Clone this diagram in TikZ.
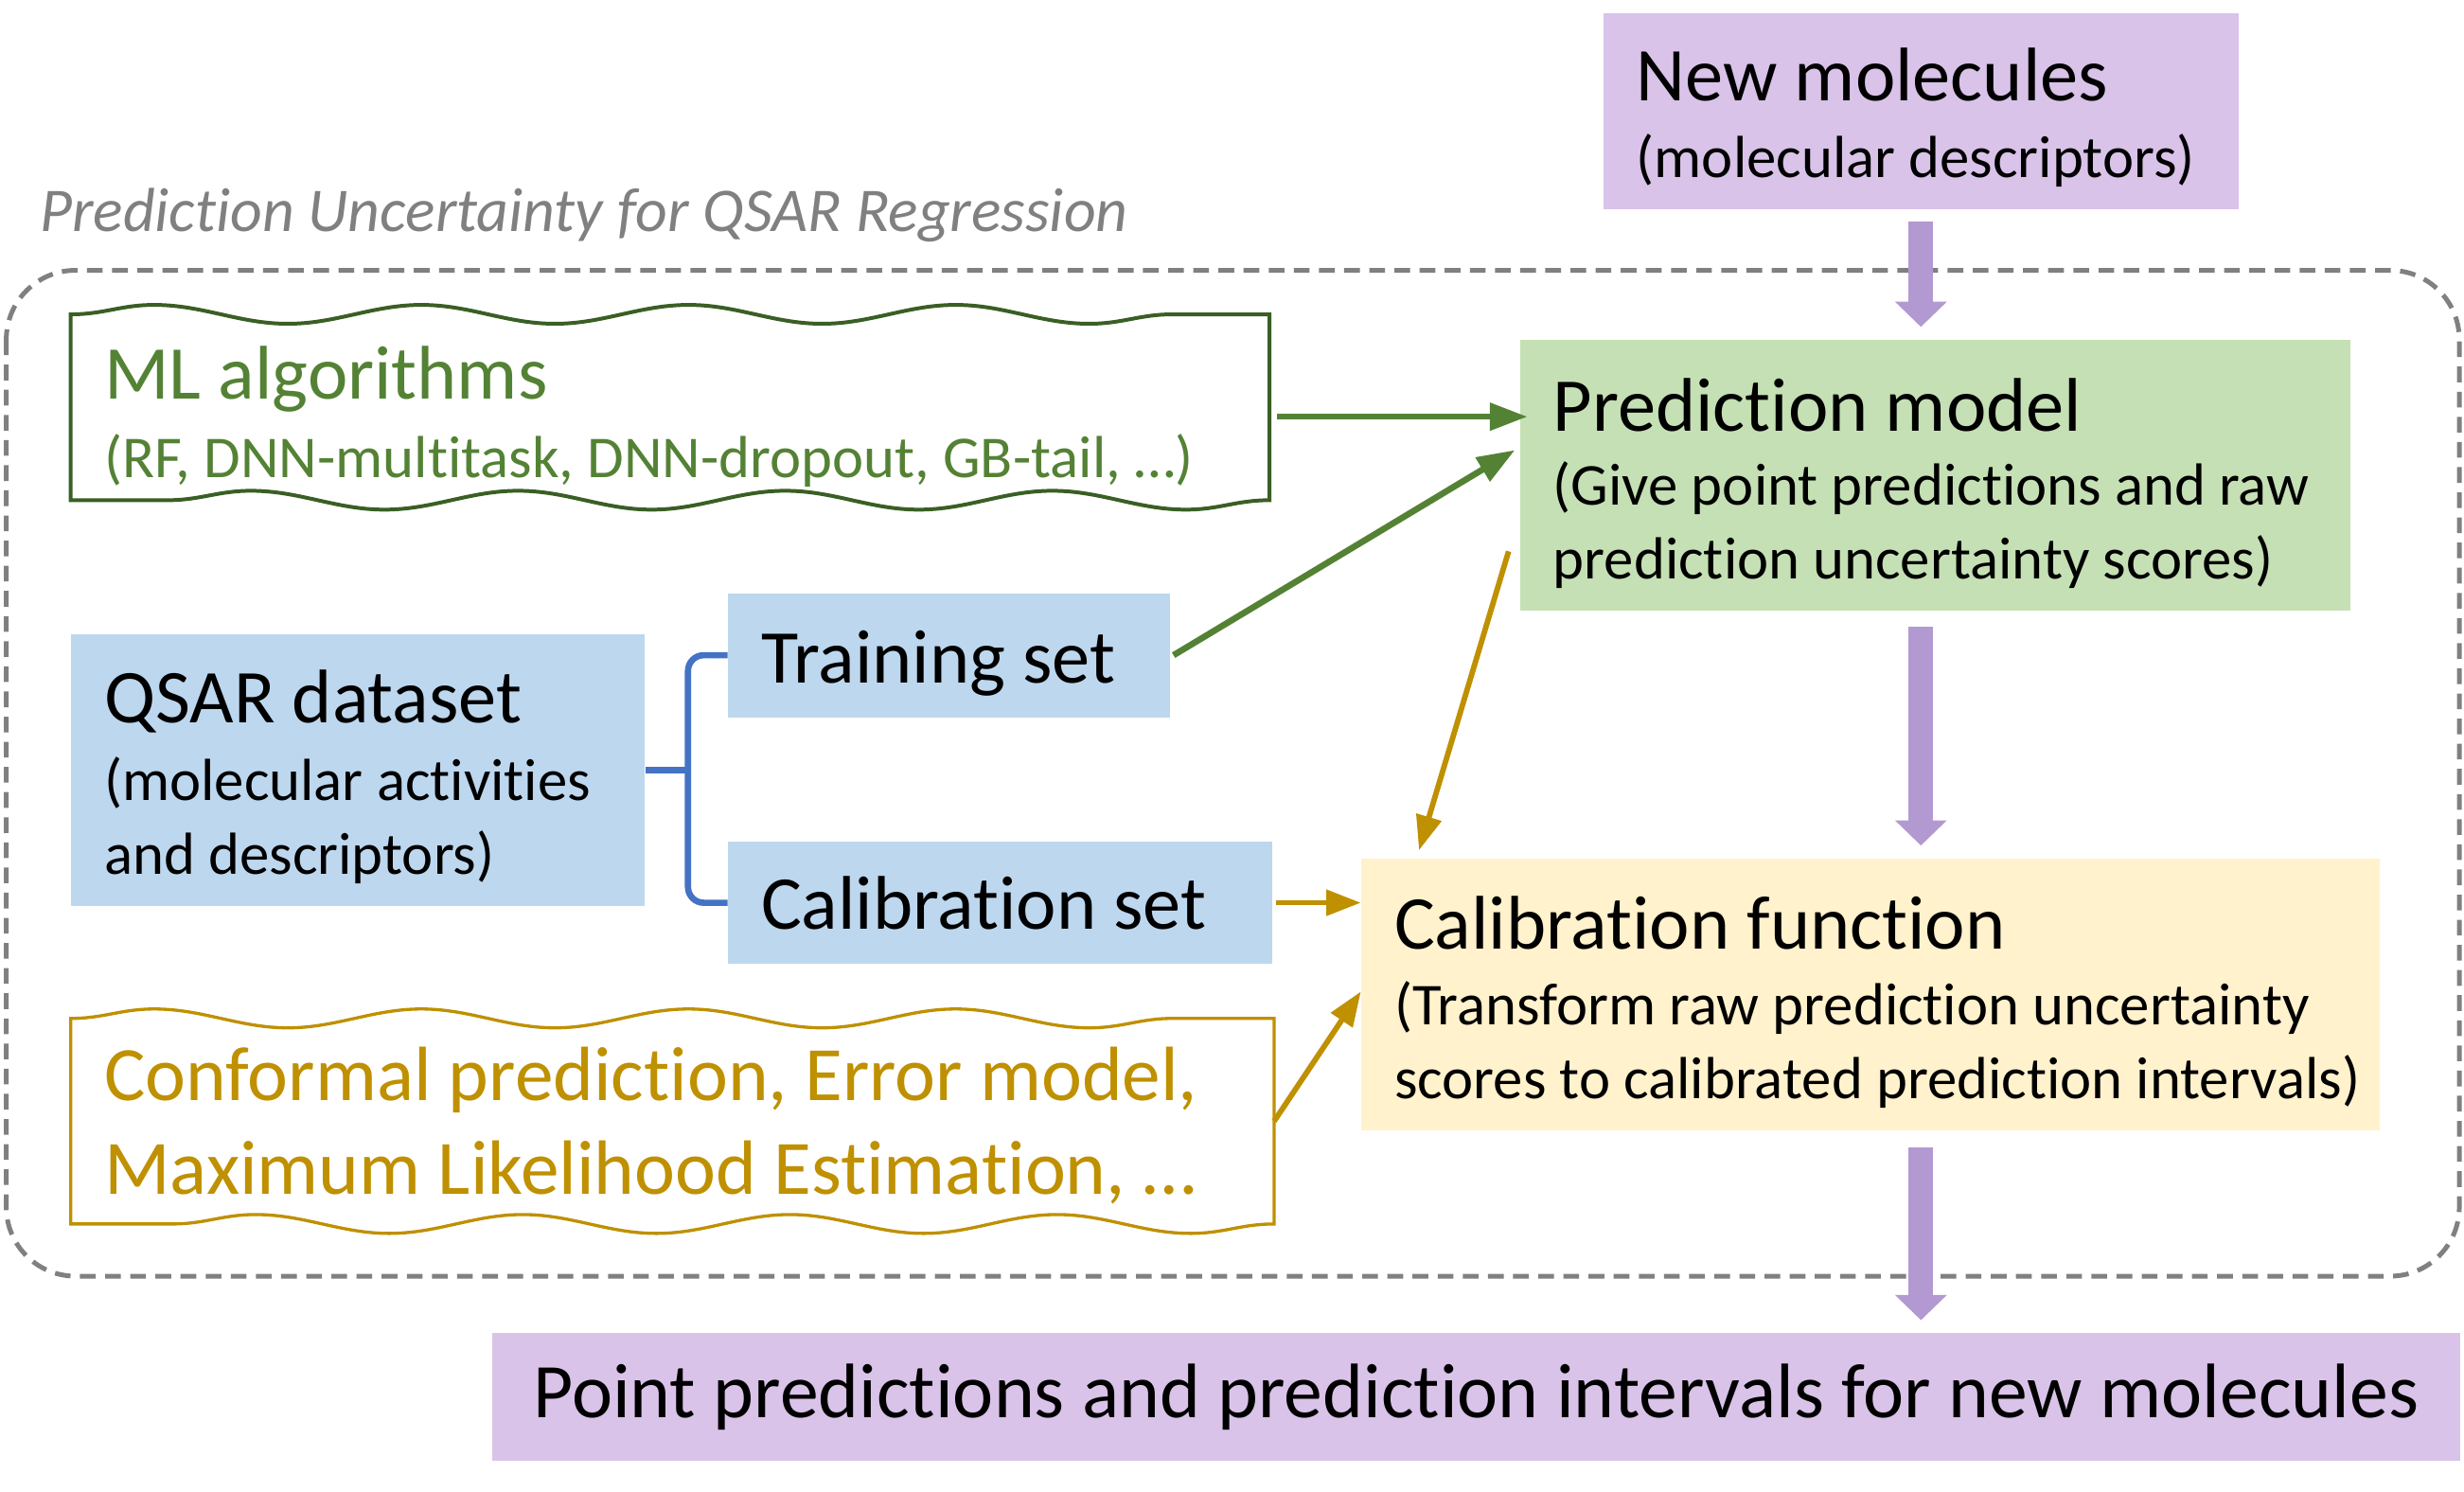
\documentclass[tikz,border=0pt]{standalone}
\usepackage{fontspec}
\setmainfont{Carlito}[Ligatures=NoCommon]
\usetikzlibrary{arrows.meta, decorations.pathmorphing, calc}

\definecolor{purfill}{HTML}{D9C3E9}
\definecolor{purarr}{HTML}{B399D1}
\definecolor{grnfill}{HTML}{C5E0B4}
\definecolor{grnline}{HTML}{548235}
\definecolor{grndark}{HTML}{3A5F25}
\definecolor{blufill}{HTML}{BDD7EE}
\definecolor{bluline}{HTML}{4472C4}
\definecolor{ylwfill}{HTML}{FFF2CC}
\definecolor{gold}{HTML}{BF9000}
\definecolor{framegray}{HTML}{808080}

\newcommand\bigtxt{\fontsize{24.2}{30}\selectfont}
\newcommand\smalltxt{\fontsize{18.9}{23.5}\selectfont}
\newcommand\txtline[1]{\mbox{\spaceskip=0pt\xspaceskip=0pt\relax #1}}
% taller first line pushes the centred text down by half of #1
\newcommand\toppad[1]{\rule{0pt}{\dimexpr\fontcharht\font`(+#1\relax}}

\tikzset{
  box/.style={anchor=north west, inner xsep=10.5pt, inner ysep=0pt, align=left, font=\smalltxt},
  wavy/.style={decorate, decoration={snake, amplitude=3pt, segment length=85pt}},
  purarrow/.style={purarr, line width=7.8pt, -{Triangle[length=8pt,width=16pt]}},
  grnarrow/.style={grnline, line width=2pt, -{Triangle[length=12pt,width=8.5pt]}},
  goldarrow/.style={gold, line width=1.75pt, -{Triangle[length=11pt,width=8pt]}},
}

\begin{document}
\begin{tikzpicture}[x=0.5pt, y=-0.5pt]
  \useasboundingbox (0,0) rectangle (1568,949);

  % Outer frame
  \node[anchor=west, font=\fontsize{19.8}{24}\selectfont\itshape, text=framegray, inner sep=0pt] (title) at (25,137) {Prediction Uncertainty for QSAR Regression};
  \draw[framegray, line width=1.5pt, dash pattern=on 5pt off 3pt, rounded corners=22pt] (4,172) rectangle (1565,812);

  % Input and output
  \node[box, fill=purfill, minimum width=202pt, minimum height=62.5pt, text width=181pt] (newmol) at (1020,8)
    {\txtline{\bigtxt\toppad{3pt}New molecules}\\[1pt]\txtline{(molecular descriptors)}};
  \node[box, align=center, fill=purfill, minimum width=626pt, minimum height=40.5pt, font=\fontsize{24.6}{30}\selectfont] (out) at (313,848)
    {Point predictions and prediction intervals for new molecules};

  % Models
  \node[box, fill=grnfill, minimum width=264pt, minimum height=86pt, text width=243pt] (pred) at (967,216)
    {\txtline{\bigtxt\toppad{4.5pt}Prediction model}\\\txtline{(Give point predictions and raw}\\\txtline{prediction uncertainty scores)}};
  \node[box, fill=ylwfill, minimum width=324pt, minimum height=86.5pt, text width=303pt] (calfun) at (866,546)
    {\txtline{\bigtxt\toppad{4pt}Calibration function}\\[0.5pt]\txtline{(Transform raw prediction uncertainty}\\\txtline{scores to calibrated prediction intervals)}};

  % Data
  \node[box, fill=blufill, minimum width=182.5pt, minimum height=86.5pt, text width=161.5pt] (qsar) at (45,403)
    {\txtline{\bigtxt\toppad{3.5pt}QSAR dataset}\\[1pt]\txtline{(molecular activities}\\\txtline{and descriptors)}};
  \node[box, fill=blufill, minimum width=140.5pt, minimum height=39.5pt, text width=119.5pt, font=\bigtxt] (train) at (463,377) {\txtline{\toppad{4pt}Training set}};
  \node[box, fill=blufill, minimum width=173pt, minimum height=39pt, text width=152pt, font=\bigtxt] (calset) at (463,535) {\txtline{Calibration set}};
  \draw[bluline, line width=2pt, rounded corners=5pt] (train.west) -| ([xshift=13.5pt]qsar.east) |- (calset.west);
  \draw[bluline, line width=2pt] (qsar.east) -- ++(13.5pt,0);

  % Methods
  \node[box, text=grnline, minimum width=381pt, minimum height=42pt, text width=360pt] (ml) at (45,218)
    {\txtline{\bigtxt\toppad{0pt}ML algorithms}\\[1.5pt]\txtline{(RF, DNN-multitask, DNN-dropout, GB-tail, …)}};
  \draw[grndark, line width=1.2pt] ([yshift=9pt]ml.north west) decorate[wavy]{-- ([yshift=9pt]ml.north east)}
    -- ([yshift=-4pt]ml.south east) decorate[wavy]{-- ([yshift=-4pt]ml.south west)} -- cycle;
  \node[box, text=gold, minimum width=382.5pt, minimum height=65pt, text width=361.5pt, font=\fontsize{24.5}{30}\selectfont] (conf) at (45,648)
    {\txtline{\toppad{2pt}Conformal prediction, Error model,}\\\txtline{Maximum Likelihood Estimation, …}};
  \draw[gold, line width=1pt] (conf.north west) decorate[wavy]{-- (conf.north east)} -- (conf.south east)
    decorate[wavy]{-- (conf.south west)} -- cycle;

  % Connectors
  \draw[purarrow] ([yshift=-3.5pt]newmol.south) -- ([yshift=4pt]newmol.south |- pred.north);
  \draw[purarrow] ([yshift=-5pt]newmol.south |- pred.south) -- ([yshift=4pt]newmol.south |- calfun.north);
  \draw[purarrow] ([yshift=-5pt]newmol.south |- calfun.south) -- ([yshift=4pt]newmol.south |- out.north);
  \draw[grnarrow] ([shift={(2.5pt,-0.5pt)}]ml.east) -- ([shift={(2.5pt,-0.5pt)}]ml.east -| pred.west);
  \draw[grnarrow] ([xshift=1pt]train.east) -- ([shift={(-1.5pt,8pt)}]pred.west);
  \draw[goldarrow] ([shift={(-3.5pt,19pt)}]pred.south west) -- ([shift={(18.5pt,2.5pt)}]calfun.north west);
  \draw[goldarrow] ([xshift=1pt]calset.east) -- (calset.east -| calfun.west);
  \draw[goldarrow] (conf.east) -- ([yshift=1pt]calfun.west);
\end{tikzpicture}
\end{document}
